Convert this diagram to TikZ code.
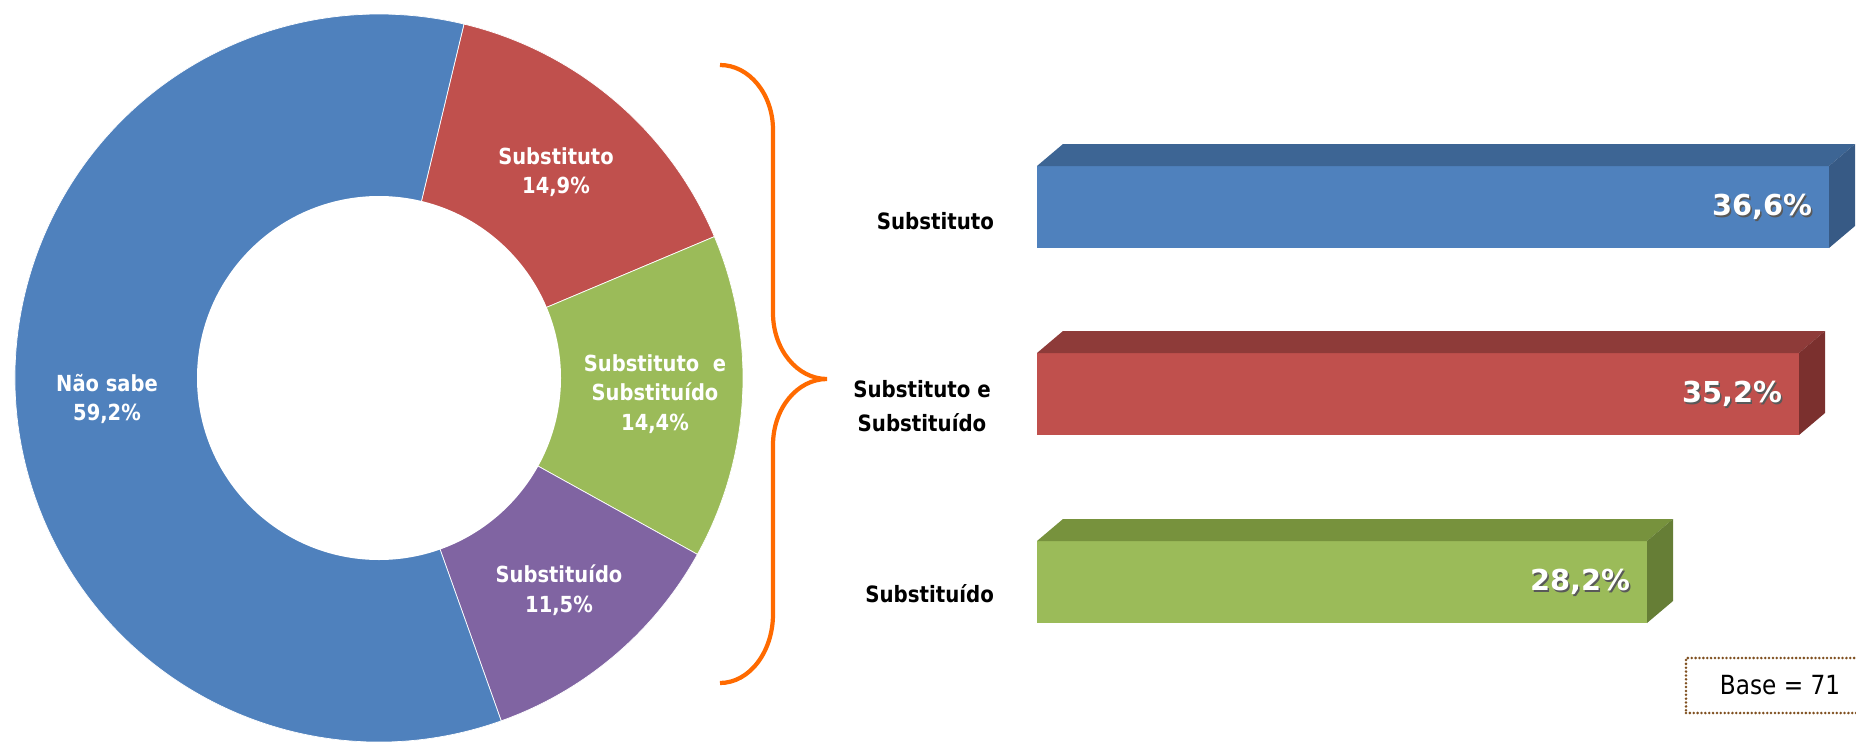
\documentclass[tikz,border=0pt]{standalone}
\usepackage{fontspec}
\newfontfamily\tah[FakeStretch=0.88]{DejaVu Sans}
\newfontfamily\verd{DejaVu Sans}
\definecolor{azul}{HTML}{4F81BD}
\definecolor{azulT}{HTML}{3D6594}
\definecolor{azulL}{HTML}{375A85}
\definecolor{verm}{HTML}{C0504D}
\definecolor{vermT}{HTML}{8E3B39}
\definecolor{vermL}{HTML}{7B302E}
\definecolor{verde}{HTML}{9BBB59}
\definecolor{verdeT}{HTML}{77923D}
\definecolor{verdeL}{HTML}{667E36}
\definecolor{roxo}{HTML}{8064A2}
\definecolor{laranja}{HTML}{FF6A00}
\definecolor{pontos}{HTML}{7F4F1F}
\begin{document}
\begin{tikzpicture}[inner sep=0pt,outer sep=0pt,
fatia/.style={draw=white,line width=0.2pt},
rotfatia/.style={text=white,font=\tah\bfseries\fontsize{6.3}{8.4}\selectfont,align=center},
rotbarra/.style={font=\tah\bfseries\fontsize{6.4}{9.6}\selectfont,align=center},
valor/.style={text=white,font=\verd\bfseries\fontsize{8.2}{9}\selectfont,anchor=east},
sombra/.style={valor,text=black!65}]
\useasboundingbox (0,0) rectangle (18.56,7.41);
\coordinate (pie) at (3.79,3.63);
% rosca
\filldraw[fatia,fill=verm] (pie) -- ++(76.5:3.64) arc[start angle=76.5,end angle=22.86,radius=3.64] -- cycle;
\filldraw[fatia,fill=verde] (pie) -- ++(22.86:3.64) arc[start angle=22.86,end angle=-28.98,radius=3.64] -- cycle;
\filldraw[fatia,fill=roxo] (pie) -- ++(-28.98:3.64) arc[start angle=-28.98,end angle=-70.38,radius=3.64] -- cycle;
\filldraw[fatia,fill=azul] (pie) -- ++(-70.38:3.64) arc[start angle=-70.38,end angle=-283.5,radius=3.64] -- cycle;
\fill[white] (pie) circle (1.82);
\node[rotfatia] (lS) at (5.56,5.69) {Substituto\\14,9\%};
\node[rotfatia] (lSS) at (6.55,3.47) {Substituto\ \ e\\Substituído\\14,4\%};
\node[rotfatia] (lD) at (5.59,1.51) {Substituído\\11,5\%};
\node[rotfatia] (lN) at (1.07,3.42) {Não sabe\\59,2\%};
% chave
\draw[laranja,line width=1.2pt] (7.20,6.76) arc[start angle=90,end angle=0,x radius=0.53,y radius=0.65]
  -- (7.73,4.28) arc[start angle=180,end angle=270,x radius=0.54,y radius=0.66]
  arc[start angle=90,end angle=180,x radius=0.54,y radius=0.66]
  -- (7.73,1.27) arc[start angle=0,end angle=-90,x radius=0.53,y radius=0.69];
% barras
\fill[azul] (10.37,4.93) rectangle (18.29,5.75);
\fill[azulT] (10.37,5.75) -- ++(0.26,0.22) -- (18.55,5.97) -- (18.29,5.75) -- cycle;
\fill[azulL] (18.29,4.93) -- ++(0.26,0.22) -- ++(0,0.82) -- (18.29,5.75) -- cycle;
\fill[verm] (10.37,3.06) rectangle (17.99,3.88);
\fill[vermT] (10.37,3.88) -- ++(0.26,0.22) -- (18.25,4.10) -- (17.99,3.88) -- cycle;
\fill[vermL] (17.99,3.06) -- ++(0.26,0.22) -- ++(0,0.82) -- (17.99,3.88) -- cycle;
\fill[verde] (10.37,1.18) rectangle (16.47,2.00);
\fill[verdeT] (10.37,2.00) -- ++(0.26,0.22) -- (16.73,2.22) -- (16.47,2.00) -- cycle;
\fill[verdeL] (16.47,1.18) -- ++(0.26,0.22) -- ++(0,0.82) -- (16.47,2.00) -- cycle;
\node[sombra] at (18.135,5.325) {36,6\%};
\node[valor] (v1) at (18.12,5.34) {36,6\%};
\node[sombra] at (17.835,3.455) {35,2\%};
\node[valor] (v2) at (17.82,3.47) {35,2\%};
\node[sombra] at (16.315,1.575) {28,2\%};
\node[valor] (v3) at (16.30,1.59) {28,2\%};
\node[rotbarra,anchor=east] (b1) at (9.94,5.20) {Substituto};
\node[rotbarra] (b2) at (9.22,3.35) {Substituto e\\Substituído};
\node[rotbarra,anchor=east] (b3) at (9.94,1.47) {Substituído};
% base
\node[draw=pontos,line width=0.8pt,line cap=round,dash pattern=on 0pt off 1.1pt,minimum width=1.88cm,minimum height=0.55cm,
  font=\tah\fontsize{7.5}{9}\selectfont] (base) at (17.80,0.555) {Base = 71};
\end{tikzpicture}
\end{document}
